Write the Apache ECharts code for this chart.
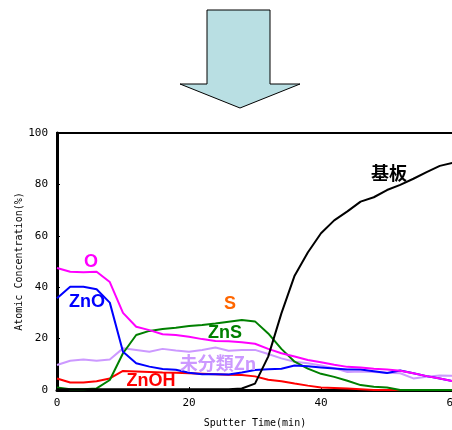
<!DOCTYPE html>
<html>
<head>
<meta charset="utf-8">
<script src="https://cdn.jsdelivr.net/npm/echarts@6/dist/echarts.min.js"></script>
<style>html,body{margin:0;padding:0;background:#fff}#c{width:452px;height:430px}</style>
</head>
<body>
<div id="c"></div>
<script>
// Sputter time (min)
const times = [0,2,4,6,8,10,12,14,16,18,20,22,24,26,28,30,32,34,36,38,40,42,44,46,48,50,52,54,56,58,60];
// Atomic concentration (%)
const O_vals     = [47.5,46,45.8,46,42,30,24.6,23.3,21.7,21.4,20.7,19.8,19.1,19,18.6,18,16,14.3,13,11.7,10.8,9.8,9,8.8,8.3,8,7.5,6.5,5.4,4.5,3.4];
const ZnO_vals   = [35.7,40.2,40.2,39.2,34,14.9,10.4,9.1,8.2,7.9,6.7,6.1,6.1,6,6.8,7.8,8.1,8.3,9.5,9.2,8.8,8.4,8,8,7.3,6.6,7.6,6.5,5.4,4.5,3.4];
const ZnS_vals   = [1,0.3,0.3,0.6,3.9,14.3,21.4,23,23.7,24.2,24.9,25.3,25.9,26.6,27.2,26.7,22,16,11,8.3,6.3,5.1,3.6,1.9,1.3,1,0,0,0,0,0];
const ZnOH_vals  = [4.5,2.9,2.9,3.4,4.5,7.4,7.2,7,6.8,6.7,6.5,6.3,6.1,5.9,5.8,5.3,4,3.4,2.5,1.7,1,0.8,0.6,0.3,0,0,0,0,0,0,0];
const Unc_vals   = [9.7,11.4,11.9,11.4,11.9,16.2,15.6,14.9,16,15.4,14.9,15.6,16.5,15.3,15.6,15.6,14,12.3,11,10.4,9.5,8.5,7,7.2,7,6.7,6.5,4.5,5.2,5.6,5.5];
const Sub_vals   = [0.3,0.3,0.3,0.3,0.3,0.3,0.3,0.3,0.3,0.3,0.3,0.3,0.3,0.3,0.6,2.5,13,29.8,44.5,53.5,61,66,69.5,73.3,75,77.8,79.8,82.2,84.8,87.2,88.4];
const xTicks = [0,20,40,60];
const yTicks = [0,20,40,60,80,100];

const pairs = v => times.map((t,i)=>[t,v[i]]);
const mk = (name, vals, color) => ({
  name, type:'line', data:pairs(vals), symbol:'none', smooth:false,
  lineStyle:{color, width:2}, itemStyle:{color}, animation:false
});

const chart = echarts.init(document.getElementById('c'), null, {renderer:'canvas'});
const lbl = (text, x, y, color) => ({
  type:'text', x, y, z:100,
  style:{text, fill:color, font:'bold 18px "Liberation Sans", Arial, sans-serif', textAlign:'center', textVerticalAlign:'middle'}
});
const lblCJK = (text, x, y, color) => ({
  type:'text', x, y, z:100,
  style:{text, fill:color, font:'bold 18px "Noto Sans CJK JP", "Liberation Sans", sans-serif', textAlign:'center', textVerticalAlign:'middle'}
});

chart.setOption({
  animation:false,
  backgroundColor:'#fff',
  grid:{left:57, top:133, width:396, height:257, outerBoundsMode:'none', containLabel:false,
        show:true, borderColor:'#000', borderWidth:2, backgroundColor:'transparent'},
  xAxis:{
    type:'value', min:xTicks[0], max:xTicks[xTicks.length-1], interval:20,
    name:'Sputter Time(min)', nameLocation:'middle', nameGap:28, nameMoveOverlap:false,
    nameTextStyle:{fontFamily:'DejaVu Sans Mono', fontSize:10, color:'#000'},
    axisLine:{lineStyle:{color:'#000', width:3}},
    axisTick:{inside:true, length:3, lineStyle:{color:'#000', width:1}},
    axisLabel:{fontFamily:'DejaVu Sans Mono', fontSize:11, color:'#000', margin:8},
    splitLine:{show:false}
  },
  yAxis:{
    type:'value', min:yTicks[0], max:yTicks[yTicks.length-1], interval:20,
    name:'Atomic Concentration(%)', nameLocation:'middle', nameGap:33, nameMoveOverlap:false,
    nameTextStyle:{fontFamily:'DejaVu Sans Mono', fontSize:10, color:'#000'},
    axisLine:{lineStyle:{color:'#000', width:3}},
    axisTick:{inside:true, length:3, lineStyle:{color:'#000', width:1}},
    axisLabel:{fontFamily:'DejaVu Sans Mono', fontSize:11, color:'#000', margin:9},
    splitLine:{show:false}
  },
  series:[
    mk('未分類Zn', Unc_vals, '#cc99ff'),
    mk('ZnOH', ZnOH_vals, '#ff0000'),
    mk('ZnS', ZnS_vals, '#008000'),
    mk('ZnO', ZnO_vals, '#0000ff'),
    mk('O', O_vals, '#ff00ff'),
    mk('基板', Sub_vals, '#000000')
  ],
  graphic:[
    {type:'polygon', z:100, shape:{points:[[207,10],[270,10],[270,84],[300,84],[240,108],[180,84],[207,84]]},
     style:{fill:'#b9dfe3', stroke:'#000', lineWidth:1}},
    lbl('O', 91, 262, '#ff00ff'),
    lbl('ZnO', 87, 302, '#0000ff'),
    lbl('S', 230, 304, '#ff6600'),
    lbl('ZnS', 225, 333, '#008000'),
    lblCJK('未分類Zn', 218, 363, '#cc99ff'),
    lbl('ZnOH', 151, 381, '#ff0000'),
    lblCJK('基板', 389, 173, '#000000')
  ]
});
</script>
</body>
</html>
